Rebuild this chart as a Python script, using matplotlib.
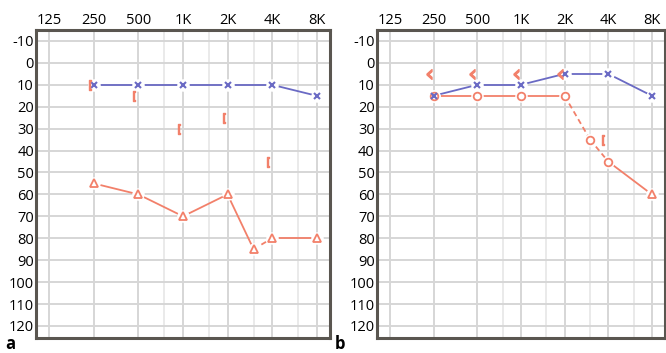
import matplotlib
matplotlib.use("Agg")
import matplotlib.pyplot as plt
import matplotlib.transforms as mtransforms

plt.rcParams['font.family'] = ['Open Sans', 'DejaVu Sans']
plt.rcParams['axes.unicode_minus'] = False

freq_ticks = [125, 250, 500, 1000, 2000, 4000, 8000]
freq_labels = ["125", "250", "500", "1K", "2K", "4K", "8K"]
half_octaves = [750, 1500, 3000, 6000]
db_ticks = list(range(-10, 130, 10))

# panel a
a_left_freq = [250, 500, 1000, 2000, 4000, 8000]
a_left_db = [10, 10, 10, 10, 10, 15]
a_bone_freq = [250, 500, 1000, 2000, 4000]
a_bone_db = [10, 15, 30, 25, 45]
a_right_freq = [250, 500, 1000, 2000, 3000, 4000, 8000]
a_right_db = [55, 60, 70, 60, 85, 80, 80]

# panel b
b_left_freq = [250, 500, 1000, 2000, 4000, 8000]
b_left_db = [15, 10, 10, 5, 5, 15]
b_unmasked_freq = [250, 500, 1000, 2000]
b_unmasked_db = [5, 5, 5, 5]
b_bone_freq = [4000]
b_bone_db = [35]
b_right_freq = [250, 500, 1000, 2000, 3000, 4000, 8000]
b_right_db = [15, 15, 15, 15, 35, 45, 60]
b_right_marks = ['o', 'o', 'o', 'o', 'o', 'o', '^']

BLUE = "#6a6ac4"
RED = "#f2806a"


def series(ax, f, d, color, marker, marks=None, dashed=()):
    # segments between points; some are drawn dashed as in the original
    for i in range(len(f) - 1):
        ax.plot(f[i:i + 2], d[i:i + 2], color=color, lw=1.3, zorder=2,
                linestyle=(0, (3, 2)) if i in dashed else '-')
    # white halos break the line near each marker
    ax.plot(f, d, 'o', ms=9, color='white', mec='none', zorder=3)
    if marks is None:
        marks = [marker] * len(f)
    for fx, dy, m in zip(f, d, marks):
        if m == 'x':
            ax.plot(fx, dy, 'x', ms=5, mew=1.5, color=color, zorder=4)
        else:
            ax.plot(fx, dy, m, ms=5.5, mew=1.3, mfc='none', mec=color, zorder=4)


def setup(ax):
    ax.set_xscale('log')
    ax.set_xlim(125 / 2 ** 0.3, 8000 * 2 ** 0.3)
    ax.set_ylim(125.5, -15)
    ax.set_xticks(freq_ticks)
    ax.set_xticklabels(freq_labels)
    ax.xaxis.set_minor_locator(matplotlib.ticker.FixedLocator(half_octaves))
    ax.xaxis.set_minor_formatter(matplotlib.ticker.NullFormatter())
    ax.set_yticks(db_ticks)
    ax.xaxis.tick_top()
    ax.tick_params(axis='both', which='both', length=0, labelsize=10.5, pad=1.5)
    ax.grid(True, which='major', color='#d6d6d6', lw=1.4)
    ax.grid(True, which='minor', axis='x', color='#e6e6e6', lw=1.2)
    for s in ax.spines.values():
        s.set_color('#5a5650')
        s.set_linewidth(2.2)
    ax.set_axisbelow(True)


fig = plt.figure(figsize=(6.66, 3.53), dpi=100)
ax1 = fig.add_axes([0.054, 0.0425, 0.4415, 0.8725])
ax2 = fig.add_axes([0.566, 0.0425, 0.4324, 0.8725])
setup(ax1)
setup(ax2)

left_shift1 = mtransforms.offset_copy(ax1.transData, fig=fig, x=-4, y=0, units='dots')
left_shift2 = mtransforms.offset_copy(ax2.transData, fig=fig, x=-5, y=0, units='dots')

series(ax1, a_left_freq, a_left_db, BLUE, 'x')
series(ax1, a_right_freq, a_right_db, RED, '^', dashed=(4,))
ax1.plot(a_bone_freq, a_bone_db, linestyle='none', marker='$[$', ms=7, color=RED,
         transform=left_shift1, zorder=5)

series(ax2, b_right_freq, b_right_db, RED, 'o', b_right_marks, dashed=(3, 4))
series(ax2, b_left_freq, b_left_db, BLUE, 'x')
ax2.plot(b_unmasked_freq, b_unmasked_db, linestyle='none', marker='$‹$', ms=7, color=RED,
         transform=left_shift2, zorder=5)
ax2.plot(b_bone_freq, b_bone_db, linestyle='none', marker='$[$', ms=7, color=RED,
         transform=left_shift2, zorder=5)

fig.text(0.008, 0.0, "a", fontsize=12, fontweight='bold', va='bottom')
fig.text(0.503, 0.0, "b", fontsize=12, fontweight='bold', va='bottom')

fig.savefig("out.png", dpi=100, facecolor='white')
